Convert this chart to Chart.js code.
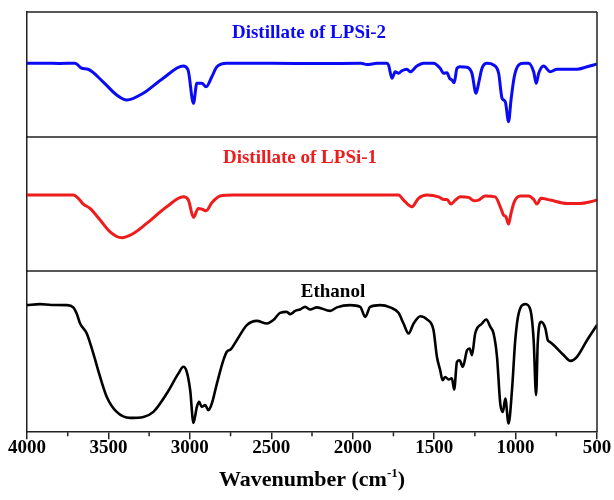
<!DOCTYPE html>
<html>
<head>
<meta charset="utf-8">
<title>FTIR spectra</title>
<script src="https://cdn.jsdelivr.net/npm/chart.js@4/dist/chart.umd.min.js"></script>
<style>
  html, body { margin: 0; padding: 0; background: #fff; }
</style>
</head>
<body>
<canvas id="ir" width="614" height="500"></canvas>
<script>
// wavenumbers (cm-1) and transmittance (arb. %) for each sample
var lpsi2Wn = [4000, 3900, 3800, 3705, 3664, 3625, 3533, 3449, 3387, 3287, 3164, 3041, 3011, 2978, 2957, 2927, 2900, 2865, 2834, 2773, 2500, 2200, 1950, 1913, 1850, 1790, 1780, 1759, 1739, 1719, 1698, 1667, 1647, 1606, 1565, 1504, 1463, 1442, 1421, 1405, 1391, 1377, 1360, 1340, 1298, 1268, 1243, 1227, 1206, 1176, 1135, 1104, 1083, 1063, 1043, 1028, 1008, 981, 951, 920, 889, 873, 858, 828, 787, 746, 684, 623, 561, 500];
var lpsi2T  = [59.0, 59.1, 58.9, 59.0, 55.0, 54.2, 44.2, 33.6, 29.6, 35.0, 47.0, 56.8, 53.6, 27.0, 43.0, 43.0, 40.2, 48.2, 56.2, 59.0, 59.0, 58.8, 59.0, 58.0, 59.0, 59.0, 57.6, 47.0, 52.2, 51.0, 53.0, 54.2, 52.2, 56.8, 59.0, 59.0, 55.0, 51.0, 51.4, 47.0, 45.6, 43.4, 55.0, 56.2, 55.8, 51.0, 35.0, 43.0, 55.0, 59.0, 57.6, 51.0, 31.0, 28.2, 12.2, 29.6, 48.2, 57.6, 59.0, 59.0, 52.2, 43.0, 51.0, 56.8, 52.2, 54.2, 54.2, 54.2, 56.2, 58.4];

var lpsi1Wn = [4000, 3716, 3685, 3654, 3613, 3551, 3490, 3418, 3347, 3265, 3142, 3040, 3009, 2978, 2948, 2921, 2900, 2865, 2814, 2733, 2200, 1719, 1688, 1636, 1596, 1544, 1473, 1442, 1421, 1397, 1370, 1340, 1289, 1254, 1227, 1186, 1125, 1094, 1074, 1059, 1043, 1028, 1008, 971, 920, 889, 869, 844, 787, 684, 602, 541, 500];
var lpsi1T  = [56.7, 56.7, 54.3, 50.0, 46.8, 38.1, 29.3, 24.9, 28.1, 35.6, 48.0, 55.4, 53.0, 40.1, 46.8, 46.0, 45.0, 51.0, 56.0, 56.7, 56.7, 56.7, 53.0, 48.0, 54.3, 56.7, 55.4, 53.5, 53.5, 50.0, 53.0, 55.4, 55.0, 52.5, 53.0, 56.0, 55.4, 48.0, 41.8, 40.5, 35.1, 43.1, 51.7, 56.0, 56.0, 53.5, 50.0, 54.3, 53.0, 50.5, 50.5, 51.7, 53.0];

var ethanolWn = [4000, 3920, 3850, 3756, 3716, 3695, 3674, 3633, 3593, 3551, 3510, 3449, 3367, 3285, 3224, 3142, 3070, 3040, 3019, 2998, 2978, 2957, 2943, 2927, 2906, 2886, 2865, 2834, 2794, 2773, 2749, 2712, 2650, 2589, 2527, 2487, 2446, 2405, 2384, 2353, 2323, 2292, 2261, 2220, 2138, 2097, 2016, 1954, 1923, 1893, 1831, 1770, 1719, 1688, 1657, 1626, 1585, 1544, 1504, 1483, 1463, 1448, 1432, 1411, 1391, 1377, 1360, 1344, 1324, 1298, 1282, 1268, 1248, 1206, 1180, 1155, 1135, 1114, 1094, 1078, 1063, 1043, 1022, 1002, 981, 940, 909, 889, 874, 864, 843, 817, 802, 790, 765, 704, 663, 623, 561, 500];
var ethanolT  = [78.9, 79.5, 79.0, 78.9, 77.5, 73.7, 67.5, 61.3, 48.9, 34.3, 21.9, 12.6, 8.9, 9.5, 12.6, 24.0, 36.5, 40.6, 37.5, 26.1, 5.8, 15.7, 18.8, 15.7, 16.8, 13.7, 17.8, 30.2, 44.7, 49.9, 51.4, 57.1, 66.5, 69.1, 67.5, 69.6, 74.1, 74.7, 73.3, 75.3, 76.2, 77.8, 76.2, 77.5, 75.3, 77.5, 78.9, 77.8, 71.6, 77.8, 78.9, 77.5, 74.1, 67.5, 61.3, 67.5, 72.0, 70.0, 63.4, 46.8, 38.5, 32.3, 34.3, 32.7, 33.4, 26.5, 43.7, 44.7, 40.6, 50.9, 52.0, 47.8, 61.3, 67.5, 70.0, 65.4, 61.3, 46.8, 17.8, 12.6, 20.9, 5.4, 26.1, 57.1, 73.7, 79.5, 75.9, 57.1, 23.0, 55.1, 68.5, 64.4, 57.1, 56.1, 54.0, 47.8, 44.3, 46.8, 57.1, 66.5];

var panelNames = ['Distillate of LPSi-2', 'Distillate of LPSi-1', 'Ethanol'];
var panelColors = ['#0a0af5', '#ee1c1c', '#000000'];
var xTicks = [4000, 3500, 3000, 2500, 2000, 1500, 1000, 500];

var serif = '"Liberation Serif", "Times New Roman", serif';

function pts(wn, t) {
  return wn.map(function (w, i) { return { x: w, y: t[i] }; });
}

function panelAxis(weight) {
  return {
    type: 'linear', position: 'left', stack: 'ir', stackWeight: weight,
    min: 0, max: 100,
    ticks: { display: false },
    grid: { display: false, drawTicks: false },
    border: { color: '#222', width: 1.5 }
  };
}

// caption x offsets from the plot centre, px
var captionShift = [-3, -12, 21];

// frame, panel separators, panel captions, minor ticks and the x title
var framePlugin = {
  id: 'frame',
  afterDraw: function (chart) {
    var ctx = chart.ctx, a = chart.chartArea, x = chart.scales.x;
    var axes = [chart.scales.y1, chart.scales.y2, chart.scales.y3];
    ctx.save();
    ctx.strokeStyle = '#222';
    ctx.lineWidth = 1.5;
    ctx.beginPath();
    ctx.moveTo(a.left, a.top); ctx.lineTo(a.right, a.top);
    ctx.moveTo(a.right, a.top); ctx.lineTo(a.right, a.bottom);
    ctx.moveTo(a.left, axes[0].bottom); ctx.lineTo(a.right, axes[0].bottom);
    ctx.moveTo(a.left, axes[1].bottom); ctx.lineTo(a.right, axes[1].bottom);
    ctx.stroke();

    // minor ticks every 250
    ctx.beginPath();
    for (var w = 750; w < 4000; w += 500) {
      var px = x.getPixelForValue(w);
      ctx.moveTo(px, a.bottom); ctx.lineTo(px, a.bottom + 4);
    }
    ctx.stroke();

    ctx.textAlign = 'center';
    ctx.textBaseline = 'middle';
    ctx.font = 'bold 19px ' + serif;
    var cx = (a.left + a.right) / 2;
    axes.forEach(function (s, i) {
      ctx.fillStyle = panelColors[i];
      ctx.fillText(panelNames[i], cx + captionShift[i], s.top + 21);
    });

    // Wavenumber (cm-1) with raised -1
    ctx.fillStyle = '#000';
    ctx.textBaseline = 'alphabetic';
    ctx.textAlign = 'left';
    var big = 'bold 22px ' + serif, small = 'bold 13px ' + serif;
    ctx.font = big;
    var w1 = ctx.measureText('Wavenumber (cm').width;
    var w3 = ctx.measureText(')').width;
    ctx.font = small;
    var w2 = ctx.measureText('-1').width;
    var sx = cx - (w1 + w2 + w3) / 2, by = 486;
    ctx.font = big;
    ctx.fillText('Wavenumber (cm', sx, by);
    ctx.font = small;
    ctx.fillText('-1', sx + w1, by - 9);
    ctx.font = big;
    ctx.fillText(')', sx + w1 + w2, by);
    ctx.restore();
  }
};

var sets = [pts(lpsi2Wn, lpsi2T), pts(lpsi1Wn, lpsi1T), pts(ethanolWn, ethanolT)];

new Chart(document.getElementById('ir'), {
  type: 'line',
  data: {
    datasets: sets.map(function (d, i) {
      return {
        label: panelNames[i],
        data: d,
        yAxisID: 'y' + (i + 1),
        borderColor: panelColors[i],
        borderWidth: i === 2 ? 2.6 : 3,
        pointRadius: 0,
        fill: false,
        cubicInterpolationMode: 'monotone'
      };
    })
  },
  options: {
    responsive: false,
    animation: false,
    layout: { padding: { left: 27, right: 17, top: 12, bottom: 44 } },
    plugins: { legend: { display: false }, tooltip: { enabled: false } },
    scales: {
      x: {
        type: 'linear', reverse: true, min: 500, max: 4000,
        afterBuildTicks: function (s) { s.ticks = xTicks.map(function (v) { return { value: v }; }); },
        ticks: {
          color: '#000', maxRotation: 0, padding: -3,
          font: { family: serif, size: 19, weight: 'bold' },
          callback: function (v) { return String(v); }
        },
        grid: { drawOnChartArea: false, tickLength: 7, color: '#222', lineWidth: 1.5 },
        border: { color: '#222', width: 1.5 }
      },
      y3: panelAxis(161),
      y2: panelAxis(134),
      y1: panelAxis(125)
    }
  },
  plugins: [framePlugin]
});
</script>
</body>
</html>
